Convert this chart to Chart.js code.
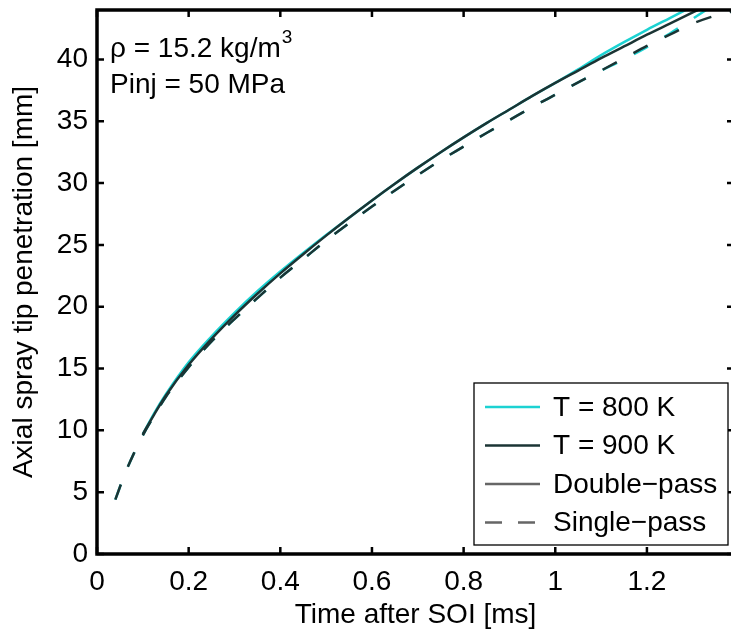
<!DOCTYPE html>
<html>
<head>
<meta charset="utf-8">
<title>Axial spray tip penetration</title>
<script src="https://cdn.jsdelivr.net/npm/chart.js@4.4.0/dist/chart.umd.min.js"></script>
<style>
  html, body { margin: 0; padding: 0; background: #fff; overflow: hidden; }
  #wrap { width: 731px; height: 631px; overflow: hidden; }
</style>
</head>
<body>
<div id="wrap"><canvas id="myChart" width="740" height="631"></canvas></div>
<script>
// time after start of injection [ms]
const timeMs = [0.04, 0.06, 0.08, 0.10, 0.125, 0.15, 0.20, 0.25, 0.30, 0.35, 0.40, 0.45, 0.50, 0.55, 0.60,
  0.65, 0.70, 0.75, 0.80, 0.85, 0.90, 0.95, 1.00, 1.05, 1.10, 1.15, 1.20, 1.25, 1.30, 1.35, 1.40];

// penetration [mm] (double-pass curves start a bit later than single-pass)
const pen800Double = [null, null, null, 9.7, 11.4, 12.9, 15.5, 17.6, 19.5, 21.25, 22.85, 24.35, 25.8, 27.2, 28.6,
  29.95, 31.25, 32.5, 33.7, 34.85, 35.95, 37.05, 38.1, 39.2, 40.35, 41.4, 42.4, 43.35, 44.3, null, null];
const pen900Double = [null, null, null, 9.7, 11.3, 12.8, 15.3, 17.4, 19.3, 21.05, 22.7, 24.25, 25.75, 27.2, 28.6,
  29.95, 31.25, 32.5, 33.7, 34.85, 35.95, 37.05, 38.1, 39.1, 40.1, 41.05, 42.0, 42.9, 43.8, 44.7, null];
const pen800Single = [4.4, 6.4, 8.1, 9.6, 11.2, 12.7, 15.1, 17.2, 19.0, 20.7, 22.35, 23.85, 25.35, 26.75, 28.1,
  29.4, 30.65, 31.85, 32.95, 34.05, 35.1, 36.15, 37.15, 38.15, 39.1, 40.0, 41.0, 42.1, 43.3, 44.5, null];
const pen900Single = [4.4, 6.4, 8.1, 9.6, 11.2, 12.7, 15.1, 17.2, 19.0, 20.7, 22.35, 23.85, 25.35, 26.75, 28.1,
  29.4, 30.65, 31.85, 32.95, 34.05, 35.1, 36.15, 37.15, 38.15, 39.1, 40.1, 41.1, 42.0, 42.9, 43.55, 44.0];

const legendLabels = ['T = 800 K', 'T = 900 K', 'Double\u2212pass', 'Single\u2212pass'];
const noteLines = ['\u03c1 = 15.2 kg/m', 'Pinj = 50 MPa'];
const noteSup = '3';

const CYAN = '#1cd2d2';
const DARK = '#1b3434';
const GRAY = '#666666';
const FONT = '"Liberation Sans", Arial, Helvetica, sans-serif';

Chart.defaults.font.family = FONT;
Chart.defaults.color = '#000';

function pts(ys) {
  return timeMs.map((t, i) => ({ x: t, y: ys[i] }));
}

// axes frame with inward ticks (matlab style)
const framePlugin = {
  id: 'frame',
  afterDatasetsDraw(chart) {
    const { ctx, chartArea: a, scales: { x, y } } = chart;
    ctx.save();
    ctx.strokeStyle = '#000';
    ctx.lineWidth = 3.5;
    ctx.strokeRect(a.left, a.top, a.right - a.left, a.bottom - a.top);
    ctx.lineWidth = 2.5;
    ctx.beginPath();
    x.ticks.forEach(t => {
      const px = x.getPixelForValue(t.value);
      ctx.moveTo(px, a.bottom); ctx.lineTo(px, a.bottom - 7);
      ctx.moveTo(px, a.top); ctx.lineTo(px, a.top + 7);
    });
    y.ticks.forEach(t => {
      const py = y.getPixelForValue(t.value);
      ctx.moveTo(a.left, py); ctx.lineTo(a.left + 7, py);
      ctx.moveTo(a.right, py); ctx.lineTo(a.right - 7, py);
    });
    ctx.stroke();
    ctx.restore();
  }
};

// text note and legend box inside the axes
const notePlugin = {
  id: 'note',
  afterDraw(chart) {
    const { ctx, chartArea: a } = chart;
    ctx.save();
    ctx.fillStyle = '#000';
    ctx.textBaseline = 'alphabetic';
    ctx.textAlign = 'left';
    const x0 = a.left + 13;
    ctx.font = '28px ' + FONT;
    ctx.fillText(noteLines[0], x0, a.top + 47);
    const w = ctx.measureText(noteLines[0]).width;
    ctx.fillText(noteLines[1], x0, a.top + 83);
    ctx.font = '19px ' + FONT;
    ctx.fillText(noteSup, x0 + w + 1, a.top + 33);

    // legend
    const bx = a.left + 377, by = a.top + 373;
    const bw = a.right - 6 - bx, bh = a.bottom - 9 - by;
    ctx.fillStyle = '#fff';
    ctx.fillRect(bx, by, bw, bh);
    ctx.strokeStyle = '#000';
    ctx.lineWidth = 1.3;
    ctx.strokeRect(bx, by, bw, bh);
    const colors = [CYAN, DARK, GRAY, GRAY];
    const dashes = [[], [], [], [17, 16]];
    ctx.font = '28px ' + FONT;
    ctx.textBaseline = 'middle';
    legendLabels.forEach((lab, i) => {
      const ry = by + 24 + i * 38.5;
      ctx.strokeStyle = colors[i];
      ctx.lineWidth = 2.5;
      ctx.setLineDash(dashes[i]);
      ctx.beginPath();
      ctx.moveTo(bx + 11, ry);
      ctx.lineTo(bx + 66, ry);
      ctx.stroke();
      ctx.setLineDash([]);
      ctx.fillStyle = '#000';
      ctx.fillText(lab, bx + 79, ry + 1);
    });
    ctx.restore();
  }
};

const ctx = document.getElementById('myChart').getContext('2d');
const chart = new Chart(ctx, {
  type: 'line',
  data: {
    datasets: [
      { label: '900 K single-pass', data: pts(pen900Single), borderColor: DARK, borderDash: [16, 19], order: 0 },
      { label: '900 K double-pass', data: pts(pen900Double), borderColor: DARK, order: 1 },
      { label: '800 K single-pass', data: pts(pen800Single), borderColor: CYAN, borderDash: [16, 19], order: 2 },
      { label: '800 K double-pass', data: pts(pen800Double), borderColor: CYAN, order: 3 }
    ]
  },
  options: {
    responsive: false,
    animation: false,
    spanGaps: false,
    elements: {
      point: { radius: 0 },
      line: { borderWidth: 2.5, cubicInterpolationMode: 'monotone', fill: false }
    },
    layout: { padding: { left: 0, top: 10, right: 6, bottom: 0 } },
    plugins: {
      legend: { display: false },
      tooltip: { enabled: false }
    },
    scales: {
      x: {
        type: 'linear',
        min: 0,
        max: 1.39,
        grid: { display: false, drawTicks: false },
        border: { display: false },
        ticks: {
          stepSize: 0.2, includeBounds: false, maxRotation: 0, padding: 11,
          font: { size: 28 }, color: '#000',
          callback: v => String(Math.round(v * 10) / 10)
        },
        title: { display: true, text: 'Time after SOI [ms]', font: { size: 28, lineHeight: 1 }, padding: { top: 0, bottom: 2 }, color: '#000' },
        afterFit(scale) { scale.height = 77; scale.paddingLeft = 0; scale.paddingRight = 0; }
      },
      y: {
        type: 'linear',
        min: 0,
        max: 44,
        grid: { display: false, drawTicks: false },
        border: { display: false },
        ticks: { stepSize: 5, includeBounds: false, padding: 9, font: { size: 28 }, color: '#000' },
        title: { display: true, text: 'Axial spray tip penetration [mm]', font: { size: 28, lineHeight: 1 }, padding: { top: 10, bottom: 0 }, color: '#000' },
        afterFit(scale) { scale.width = 97; scale.paddingTop = 0; scale.paddingBottom = 0; }
      }
    }
  },
  plugins: [framePlugin, notePlugin]
});
</script>
</body>
</html>
